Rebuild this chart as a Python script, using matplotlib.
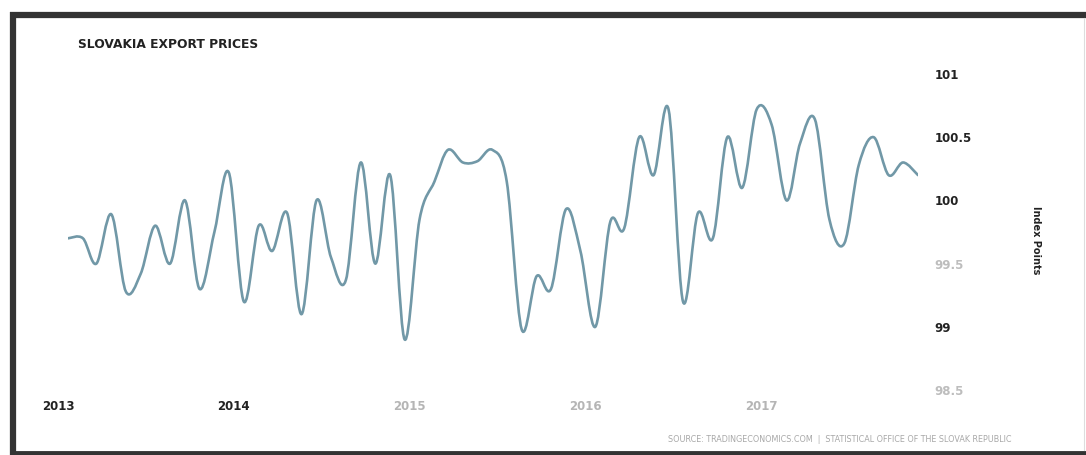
import numpy as np
import pandas as pd
import matplotlib
matplotlib.use("Agg")
import matplotlib.pyplot as plt
from matplotlib.path import Path
from matplotlib.patches import PathPatch
from matplotlib.lines import Line2D
import matplotlib.transforms as mtransforms

# monthly export price index, Jan 2013 - Nov 2017
months = pd.date_range("2013-01-01", periods=59, freq="MS")
values = [99.7, 99.7, 99.5, 99.89, 99.28, 99.42, 99.8, 99.5, 100.0, 99.3,
          99.75, 100.22, 99.2, 99.8, 99.6, 99.9, 99.1, 100.0, 99.55, 99.37,
          100.3, 99.5, 100.2, 98.9, 99.85, 100.15, 100.4, 100.3, 100.31, 100.4,
          100.15, 98.98, 99.4, 99.3, 99.93, 99.6, 99.0, 99.83, 99.78, 100.5,
          100.2, 100.72, 99.2, 99.9, 99.7, 100.5, 100.1, 100.72, 100.6, 100.0,
          100.45, 100.64, 99.85, 99.66, 100.28, 100.5, 100.2, 100.3, 100.2]
year_labels = ["2013", "2014", "2015", "2016", "2017"]
year_colors = ["#222222", "#222222", "#b5b5b5", "#b5b5b5", "#b5b5b5"]
y_ticks = [98.5, 99, 99.5, 100, 100.5, 101]
y_tick_labels = ["98.5", "99", "99.5", "100", "100.5", "101"]
y_tick_colors = ["#bdbdbd", "#222222", "#bdbdbd", "#222222", "#222222", "#222222"]


def spline_path(xs, ys):
    # catmull-rom curve through the points, as cubic beziers
    n = len(xs)
    px = [xs[0]] + list(xs) + [xs[-1]]
    py = [ys[0]] + list(ys) + [ys[-1]]
    verts = [(xs[0], ys[0])]
    codes = [Path.MOVETO]
    for i in range(1, n):
        x0, y0 = px[i - 1], py[i - 1]
        x1, y1 = px[i], py[i]
        x2, y2 = px[i + 1], py[i + 1]
        x3, y3 = px[i + 2], py[i + 2]
        c1 = (x1 + (x2 - x0) / 6, y1 + (y2 - y0) / 6)
        c2 = (x2 - (x3 - x1) / 6, y2 - (y3 - y1) / 6)
        verts += [c1, c2, (x2, y2)]
        codes += [Path.CURVE4] * 3
    return Path(verts, codes)


W, H = 1086, 455
fig = plt.figure(figsize=(W / 100, H / 100), dpi=100)
fig.patch.set_facecolor("white")

ax = fig.add_axes([68 / W, 1 - 390 / H, (918 - 68) / W, (390 - 74) / H])
ax.set_facecolor("white")

xnum = matplotlib.dates.date2num(months)
path = spline_path(list(xnum), values)
ax.add_patch(PathPatch(path, facecolor="none", edgecolor="#7198a7", lw=1.9,
                       capstyle="round", joinstyle="round"))
ax.set_xlim(xnum[0], xnum[-1])
ax.set_ylim(98.5, 101)

for s in ax.spines.values():
    s.set_visible(False)

ax.yaxis.tick_right()
ax.set_yticks(y_ticks)
ax.set_yticklabels(y_tick_labels, fontsize=8.5, fontweight="bold")
for lab, c in zip(ax.get_yticklabels(), y_tick_colors):
    lab.set_color(c)
ax.tick_params(axis="y", length=0, pad=12)

year_ticks = matplotlib.dates.date2num(pd.to_datetime([y + "-01-01" for y in year_labels]))
ax.set_xticks(year_ticks)
ax.set_xticklabels(year_labels, fontsize=8.5, fontweight="bold")
ax.tick_params(axis="x", length=0, pad=7)
shift = mtransforms.ScaledTranslation(-10 / 100, 0, fig.dpi_scale_trans)
for lab, c in zip(ax.get_xticklabels(), year_colors):
    lab.set_color(c)
    lab.set_transform(lab.get_transform() + shift)

fig.text(1036 / W, 1 - 240 / H, "Index Points", rotation=270, fontsize=7,
         fontweight="bold", color="#222222", ha="center", va="center")
fig.text(78 / W, 1 - 45 / H, "SLOVAKIA EXPORT PRICES", fontsize=8.8,
         fontweight="bold", color="#222222", ha="left", va="center")
fig.text(1012 / W, 1 - 440 / H,
         "SOURCE: TRADINGECONOMICS.COM  |  STATISTICAL OFFICE OF THE SLOVAK REPUBLIC",
         fontsize=5.8, color="#a8a8a8", ha="right", va="center")

# outer frame
frame = dict(color="#333333", solid_capstyle="butt")
fig.add_artist(Line2D([10 / W, 1], [1 - 14.5 / H, 1 - 14.5 / H], lw=4.5, **frame))
fig.add_artist(Line2D([13 / W, 13 / W], [1 - 12 / H, 1 - 455 / H], lw=4.5, **frame))
fig.add_artist(Line2D([10 / W, 1], [1 - 452.5 / H, 1 - 452.5 / H], lw=3.5, **frame))
fig.add_artist(Line2D([1084 / W, 1084 / W], [1 - 18 / H, 1 - 450 / H], lw=0.8,
                      color="#dddddd"))

fig.savefig("out.png", dpi=100, facecolor="white")
